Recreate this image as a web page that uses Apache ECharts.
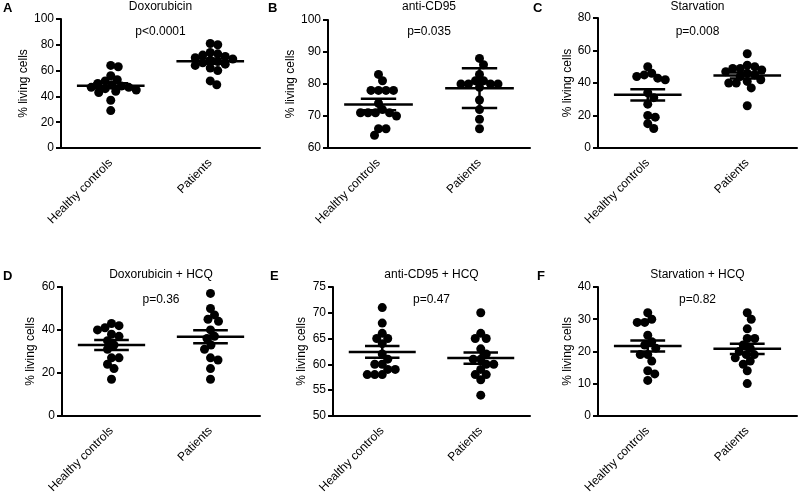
<!DOCTYPE html>
<html>
<head>
<meta charset="utf-8">
<script src="https://cdn.jsdelivr.net/npm/echarts@6/dist/echarts.min.js"></script>
<style>
html,body{margin:0;padding:0;background:#fff;}
#chart{width:800px;height:496px;}
</style>
</head>
<body>
<div id="chart"></div>
<script>
// ---------- data ----------
const categories = ['Healthy controls', 'Patients'];
const panelLetters = ['A', 'B', 'C', 'D', 'E', 'F'];
const panelTitles = ['Doxorubicin', 'anti-CD95', 'Starvation', 'Doxorubicin + HCQ', 'anti-CD95 + HCQ', 'Starvation + HCQ'];
const pValues = ['p<0.0001', 'p=0.035', 'p=0.008', 'p=0.36', 'p=0.47', 'p=0.82'];
const yMin = [0, 60, 0, 0, 50, 0];
const yMax = [100, 100, 80, 60, 75, 40];
const yStep = [20, 10, 20, 20, 5, 10];
const yName = '% living cells';

const doxHealthy = [64, 63, 56, 53, 52, 50, 49, 48, 47, 47, 46, 45, 44, 43, 37, 29];
const doxPatients = [81, 80, 74, 73, 72, 71, 70, 69, 68, 67, 66, 65, 64, 62, 60, 52, 49];
const cd95Healthy = [83, 81, 78, 78, 78, 78, 74, 72, 71, 71, 71, 71, 70, 66, 66, 64];
const cd95Patients = [88, 86, 83, 81, 81, 80, 80, 80, 80, 79, 75, 72, 69, 66];
const starvHealthy = [50, 46, 45, 44, 43, 42, 34, 31, 27, 20, 19, 15, 12];
const starvPatients = [58, 51, 50, 49, 49, 48, 47, 46, 45, 44, 42, 41, 40, 40, 37, 26];
const doxHcqHealthy = [43, 42, 41, 40, 38, 37, 35, 33, 31, 27, 27, 24, 22, 17];
const doxHcqPatients = [57, 50, 47, 45, 44, 40, 37, 36, 33, 31, 27, 26, 22, 17];
const cd95HcqHealthy = [71, 68, 66, 65, 65, 64, 62, 61, 60, 60, 59, 59, 58, 58, 58];
const cd95HcqPatients = [70, 66, 65, 65, 63, 62, 61, 61, 60, 60, 59, 58, 58, 57, 54];
const starvHcqHealthy = [32, 30, 29, 29, 25, 23, 22, 21, 19, 19, 17, 14, 13, 11];
const starvHcqPatients = [32, 30, 27, 24, 24, 22, 21, 20, 19, 19, 18, 17, 16, 14, 10];

const healthyMeans = [48.3, 73.6, 32.7, 33.0, 62.4, 21.7];
const patientMeans = [67.3, 78.7, 44.6, 36.8, 61.2, 20.8];
const healthyErr = [1.9, 1.8, 3.5, 2.3, 1.15, 1.7];
const patientErr = [2.0, 6.2, 1.9, 3.0, 1.1, 1.6];

const healthyGroups = [doxHealthy, cd95Healthy, starvHealthy, doxHcqHealthy, cd95HcqHealthy, starvHcqHealthy];
const patientGroups = [doxPatients, cd95Patients, starvPatients, doxHcqPatients, cd95HcqPatients, starvHcqPatients];

// ---------- layout ----------
const grids = [
  {left: 61, top: 19, width: 199, height: 129},
  {left: 328, top: 20, width: 202, height: 128},
  {left: 598, top: 18, width: 199, height: 130},
  {left: 62, top: 287, width: 198, height: 130},
  {left: 333, top: 287, width: 197, height: 130},
  {left: 598, top: 287, width: 199, height: 130}
];
const nameGaps = [24, 20, 21, 25, 25, 21];
const letterX = [3, 268, 533, 3, 270, 537];
const DOT = 9;
const FONT = '"Liberation Sans", Arial, sans-serif';

// beeswarm offsets (pixels) computed from values
function swarm(values, pxPerUnit, D) {
  const idx = values.map((v, i) => i).sort((a, b) => values[b] - values[a]);
  const placed = [];
  const off = new Array(values.length).fill(0);
  idx.forEach(i => {
    const y = values[i] * pxPerUnit;
    let near = 0;
    placed.forEach(p => { if (Math.abs(p.y - y) < D) near += p.x; });
    const sign = near > 0 ? -1 : 1;
    for (let k = 0; k < 400; k++) {
      const cands = k === 0 ? [0] : [sign * k * 0.5, -sign * k * 0.5];
      let found = null;
      for (const c of cands) {
        if (placed.every(p => (p.x - c) * (p.x - c) + (p.y - y) * (p.y - y) >= D * D)) { found = c; break; }
      }
      if (found !== null) { off[i] = found; placed.push({x: found, y: y}); break; }
    }
  });
  return off;
}

const option = {
  animation: false,
  backgroundColor: '#fff',
  textStyle: {fontFamily: FONT},
  grid: [], xAxis: [], yAxis: [], series: [], title: []
};

grids.forEach((g, i) => {
  option.grid.push({left: g.left, top: g.top, width: g.width, height: g.height, containLabel: false});
  option.xAxis.push({
    type: 'category', gridIndex: i, data: categories, boundaryGap: true,
    axisLine: {onZero: false, lineStyle: {color: '#000', width: 2}},
    axisTick: {alignWithLabel: true, length: 5, lineStyle: {color: '#000', width: 2}},
    axisLabel: {rotate: 45, fontSize: 12, color: '#000', margin: 13, fontFamily: FONT},
    splitLine: {show: false}
  });
  option.xAxis.push({
    type: 'value', gridIndex: i, min: -0.5, max: 1.5, show: false,
    axisLine: {show: false, onZero: false}, splitLine: {show: false}
  });
  option.yAxis.push({
    type: 'value', gridIndex: i, min: yMin[i], max: yMax[i], interval: yStep[i],
    name: yName, nameLocation: 'middle', nameGap: nameGaps[i],
    nameTextStyle: {fontSize: 12, color: '#000', fontFamily: FONT},
    axisLine: {show: true, onZero: false, lineStyle: {color: '#000', width: 2}},
    axisTick: {show: true, length: 5, lineStyle: {color: '#000', width: 2}},
    axisLabel: {fontSize: 12, color: '#000', margin: 7, fontFamily: FONT},
    splitLine: {show: false}
  });
  const pxPerUnit = g.height / (yMax[i] - yMin[i]);
  const unitPerPx = 2 / g.width;
  const pts = [];
  [healthyGroups[i], patientGroups[i]].forEach((vals, gi) => {
    const off = swarm(vals, pxPerUnit, 7.5);
    vals.forEach((v, k) => pts.push([gi + off[k] * unitPerPx, v]));
  });
  option.series.push({
    type: 'scatter', xAxisIndex: 2 * i + 1, yAxisIndex: i,
    symbol: 'circle', symbolSize: DOT, itemStyle: {color: '#000', opacity: 1},
    data: pts, silent: true
  });
  option.series.push({
    type: 'custom', xAxisIndex: 2 * i + 1, yAxisIndex: i, z: 3, clip: false,
    encode: {x: 0, y: 1},
    data: [[0, healthyMeans[i], healthyErr[i]], [1, patientMeans[i], patientErr[i]]],
    renderItem: function (params, api) {
      const x = api.value(0), m = api.value(1), e = api.value(2);
      const seg = (x1, y1, x2, y2) => {
        const a = api.coord([x1, y1]), b = api.coord([x2, y2]);
        return {type: 'line', shape: {x1: a[0], y1: a[1], x2: b[0], y2: b[1]},
          style: {stroke: '#000', lineWidth: 2.5}};
      };
      return {type: 'group', children: [
        seg(x - 0.34, m, x + 0.34, m),
        seg(x - 0.175, m + e, x + 0.175, m + e),
        seg(x - 0.175, m - e, x + 0.175, m - e),
        seg(x, m - e, x, m + e)
      ]};
    }
  });
  const cx = g.left + g.width / 2;
  const rowTop = i < 3 ? 1 : 269;
  option.title.push({
    text: panelTitles[i], left: cx, top: rowTop, textAlign: 'center', padding: 0,
    textStyle: {fontSize: 12, fontWeight: 'normal', color: '#000', fontFamily: FONT}
  });
  option.title.push({
    text: pValues[i], left: cx, top: rowTop + 25, textAlign: 'center', padding: 0,
    textStyle: {fontSize: 12, fontWeight: 'normal', color: '#000', fontFamily: FONT}
  });
  option.title.push({
    text: panelLetters[i], left: letterX[i], top: rowTop + 1, padding: 0,
    textStyle: {fontSize: 13, fontWeight: 'bold', color: '#000', fontFamily: FONT}
  });
});

const chart = echarts.init(document.getElementById('chart'), null, {renderer: 'canvas'});
chart.setOption(option);
</script>
</body>
</html>
